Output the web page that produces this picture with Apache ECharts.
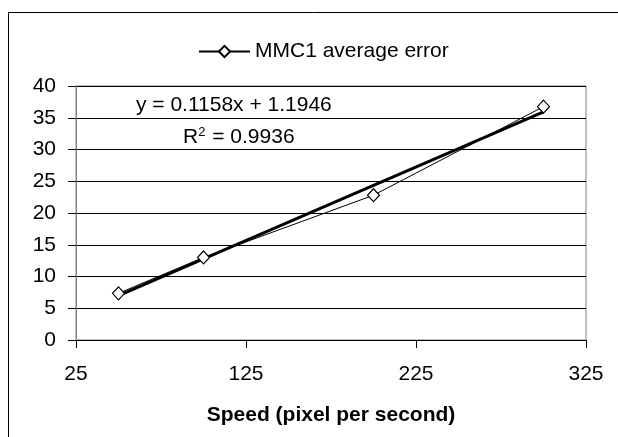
<!DOCTYPE html>
<html>
<head>
<meta charset="utf-8">
<script src="https://cdn.jsdelivr.net/npm/echarts@6/dist/echarts.min.js"></script>
<style>
  html, body { margin: 0; padding: 0; background: #fff; }
  #chart { width: 618px; height: 437px; }
</style>
</head>
<body>
<div id="chart"></div>
<script>
// measured points (speed, average error)
let speeds = [50, 100, 200, 300];
let errors = [7.35, 13.0, 22.8, 36.75];

// linear trendline end points, y = 0.1158x + 1.1946
let trendX = [50, 300];
let trendY = [6.98, 35.93];

let seriesName = 'MMC1 average error';
let equationText = 'y = 0.1158x + 1.1946';
let rSquaredText = '0.9936';

let myChart = echarts.init(document.getElementById('chart'));

let fontFamily = '"Liberation Sans", Arial, sans-serif';

let option = {
    animation: false,
    backgroundColor: '#fff',
    textStyle: { fontFamily: fontFamily },
    legend: {
        data: [{ name: seriesName }],
        top: 36,
        left: 193,
        itemWidth: 51,
        itemHeight: 14,
        itemGap: 4,
        textStyle: { fontSize: 21, color: '#000', fontFamily: fontFamily }
    },
    grid: {
        left: 76,
        right: 32,
        top: 86,
        bottom: 97,
        show: true,
        borderColor: '#808080',
        borderWidth: 1,
        backgroundColor: '#fff'
    },
    xAxis: {
        type: 'value',
        min: 25,
        max: 325,
        interval: 100,
        name: 'Speed (pixel per second)',
        nameLocation: 'middle',
        nameGap: 65,
        nameTextStyle: { fontSize: 21, fontWeight: 'bold', color: '#000', fontFamily: fontFamily },
        axisLine: { lineStyle: { color: '#000', width: 1 } },
        axisTick: { show: true, inside: false, length: 8, lineStyle: { color: '#000' } },
        axisLabel: { fontSize: 21, color: '#000', margin: 24, fontFamily: fontFamily },
        splitLine: { show: false }
    },
    yAxis: {
        type: 'value',
        min: 0,
        max: 40,
        interval: 5,
        axisLine: { show: true, lineStyle: { color: '#808080', width: 1 } },
        axisTick: { show: true, inside: false, length: 8, lineStyle: { color: '#000' } },
        axisLabel: { fontSize: 21, color: '#000', margin: 20, fontFamily: fontFamily },
        splitLine: { show: true, lineStyle: { color: '#000', width: 1 } }
    },
    series: [
        {
            name: 'trend',
            type: 'line',
            data: trendX.map(function (x, i) { return [x, trendY[i]]; }),
            symbol: 'none',
            lineStyle: { color: '#000', width: 3 },
            silent: true,
            z: 2
        },
        {
            name: seriesName,
            type: 'line',
            data: speeds.map(function (x, i) { return [x, errors[i]]; }),
            symbol: 'diamond',
            symbolSize: [12, 13],
            itemStyle: { color: '#fff', borderColor: '#000', borderWidth: 1.2 },
            lineStyle: { color: '#000', width: 1 },
            z: 3
        }
    ],
    graphic: [
        {
            type: 'rect',
            shape: { x: 8.5, y: 12.5, width: 640, height: 460 },
            style: { fill: 'none', stroke: '#000', lineWidth: 1 },
            z: 100
        },
        {
            type: 'text',
            left: 136,
            top: 95,
            style: { text: equationText, fontSize: 21, fill: '#000', fontFamily: fontFamily },
            z: 100
        },
        {
            type: 'text',
            left: 183,
            top: 126,
            style: {
                text: 'R{sup|2} = ' + rSquaredText,
                fontSize: 21,
                fill: '#000',
                fontFamily: fontFamily,
                rich: {
                    sup: { fontSize: 13, verticalAlign: 'top', padding: [0, 1, 9, 0], fontFamily: fontFamily }
                }
            },
            z: 100
        }
    ]
};

myChart.setOption(option);
</script>
</body>
</html>
